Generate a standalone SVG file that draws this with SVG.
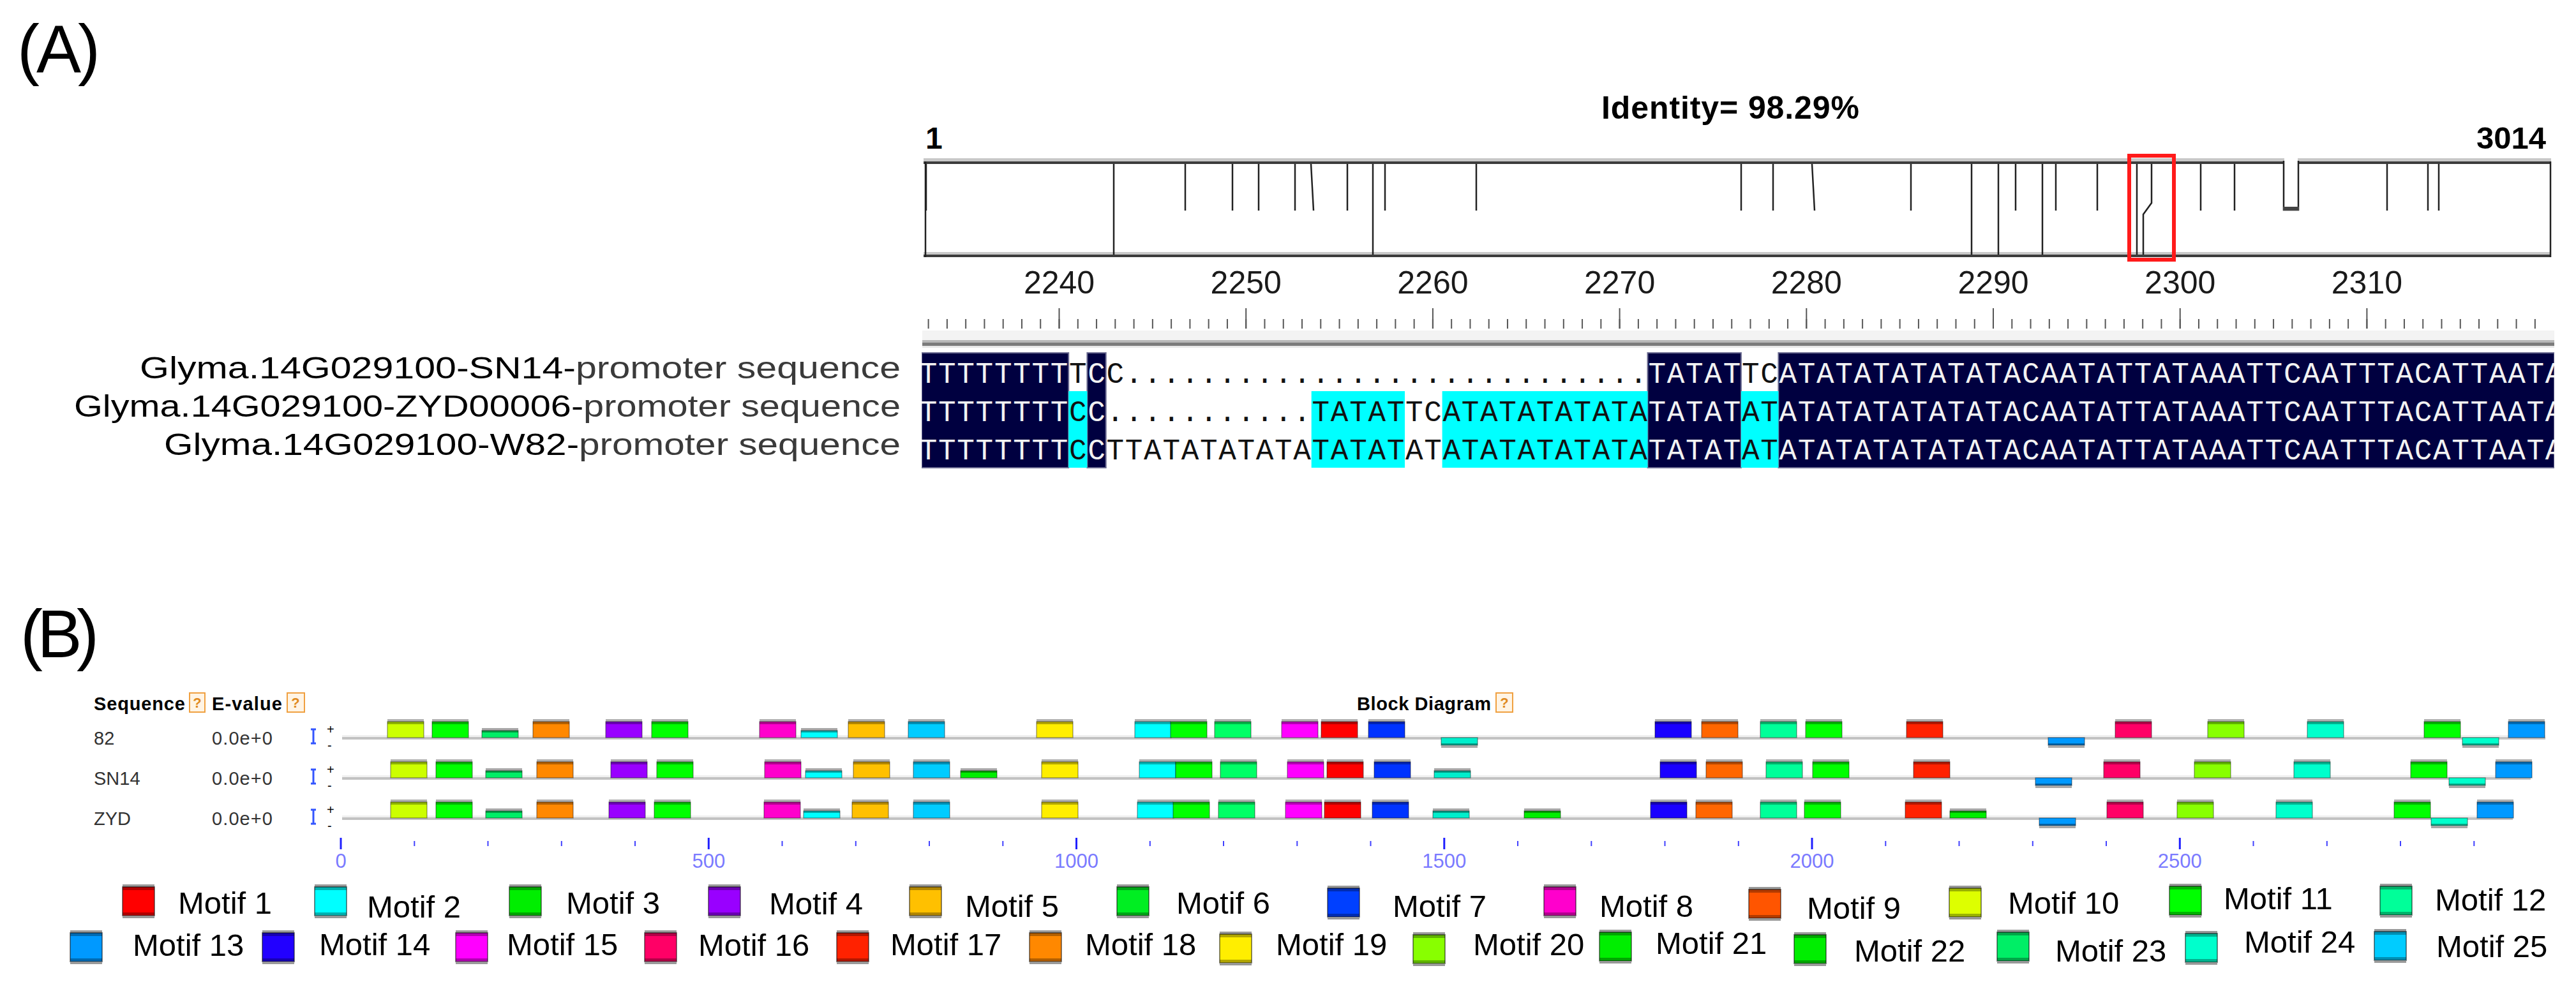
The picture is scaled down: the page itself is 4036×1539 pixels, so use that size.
<svg xmlns="http://www.w3.org/2000/svg" width="4036" height="1539" viewBox="0 0 4036 1539">
<style>
text{font-family:"Liberation Sans",Arial,sans-serif;fill:#000}
.b{font-weight:bold}
.seq{font-family:"Liberation Mono","Courier New",monospace;font-size:46px;letter-spacing:1.67px}
.w{fill:#f2f2f2}
.k{fill:#111}
.vl{stroke:#222;stroke-width:2.5;fill:none}
.num{font-size:50px;fill:#1a1a1a}
.mt{font-size:49px}
.sml{font-size:29px;fill:#333}
.ax{font-size:31px;fill:#7a7aff}
.nav{fill:#000040;stroke:#6b6b90;stroke-width:2}
.cy{fill:#00ffff}
.q{fill:#fff4e4;stroke:#f0a040;stroke-width:2}
.qt{font-size:22px;fill:#e08a20;font-weight:bold}
.sl{font-size:48px}
</style>
<defs>
<g id="bu"><rect width="57" height="4" fill="#b0b0b0"/><rect y="4" width="57" height="25" fill="currentColor" stroke="#000" stroke-opacity=".35" stroke-width="1.5"/><rect y="4" width="57" height="4" fill="#000" opacity=".3"/></g>
<g id="bs"><rect width="57" height="4" fill="#a8a8a8"/><rect y="4" width="57" height="11" fill="currentColor" stroke="#000" stroke-opacity=".35" stroke-width="1.5"/><rect y="4" width="57" height="3" fill="#000" opacity=".35"/></g>
<g id="bd"><rect width="57" height="12" fill="currentColor" stroke="#000" stroke-opacity=".35" stroke-width="1.5"/><rect y="9" width="57" height="3" fill="#000" opacity=".35"/><rect y="12" width="57" height="4" fill="#a8a8a8"/></g>
<g id="sw"><rect width="50" height="4" fill="#999"/><rect y="4" width="50" height="45" fill="currentColor" stroke="#000" stroke-opacity=".45" stroke-width="2"/><rect y="4" width="50" height="5" fill="#000" opacity=".3"/><rect y="44" width="50" height="5" fill="#000" opacity=".3"/><rect y="49" width="50" height="4" fill="#999"/></g>
<g id="strand"><path d="M491,-12V10M487,-12H495M487,10H495" stroke="#3355ff" stroke-width="3" fill="none"/><text x="512" y="-5" font-size="20" fill="#555">+</text><text x="513" y="20" font-size="20" fill="#555">-</text></g>
<pattern id="tk" patternUnits="userSpaceOnUse" x="1440" y="500" width="29.27" height="15"><rect x="13.6" width="2" height="15" fill="#555"/></pattern>
<clipPath id="alc"><rect x="1444" y="540" width="2558" height="200"/></clipPath>
</defs>
<rect width="4036" height="1539" fill="#fff"/>

<g id="panel-a">
<text id="label-a" x="27" y="113" font-size="105" textLength="130">(A)</text>

<g id="identity-bar">
<text x="2509" y="186" class="b" font-size="50" textLength="404">Identity= 98.29%</text>
<text x="1450" y="233" class="b" font-size="48">1</text>
<text x="3989" y="233" class="b" font-size="49" text-anchor="end">3014</text>
<rect x="1447" y="248" width="2550" height="5" fill="#c8c8c8"/>
<rect x="1447" y="253" width="2550" height="4" fill="#3c3c3c"/>
<rect x="1447" y="395" width="2550" height="4" fill="#c8c8c8"/>
<rect x="1447" y="399" width="2550" height="4" fill="#3c3c3c"/>
<path class="vl" stroke-width="2" d="M1450,253V403M3996,253V403"/>
<path class="vl" d="M1451,257V330M1857,257V330M1931,257V330M1972,257V330M2029,257V330M2111,257V330M2170,257V330M2313,257V330M2778,257V330M2994,257V330M3158,257V330M3221,257V330M3286,257V330M3448,257V330M3501,257V330M3740,257V330M3804,257V330M3821,257V330M2054,257L2058,330M2839,257L2843,330"/>
<path class="vl" stroke-width="6" d="M2728,257V330"/>
<path class="vl" stroke-width="3.5" d="M1745,257V399M3089,257V399"/>
<path class="vl" d="M2151,257V399M3131,257V399M3200,257V399"/>
<rect x="3579" y="246" width="21" height="12" fill="#fff"/>
<path class="vl" d="M3578,252V329H3601V252"/>
<rect x="3577" y="324" width="25" height="6" fill="#444"/>
<path class="vl" stroke-width="1.5" d="M3348,257V399"/>
<path class="vl" stroke-width="3.5" d="M3371,257V318L3358,336V399"/>
<rect x="3336" y="244" width="70" height="163" fill="none" stroke="#ff1a1a" stroke-width="6"/>
</g>

<g id="ruler">
<g text-anchor="middle">
<text x="1659.5" y="460" class="num">2240</text>
<text x="1952.2" y="460" class="num">2250</text>
<text x="2244.9" y="460" class="num">2260</text>
<text x="2537.6" y="460" class="num">2270</text>
<text x="2830.3" y="460" class="num">2280</text>
<text x="3123" y="460" class="num">2290</text>
<text x="3415.7" y="460" class="num">2300</text>
<text x="3708.4" y="460" class="num">2310</text>
</g>
<rect x="1444" y="500" width="2540" height="15" fill="url(#tk)"/>
<path stroke="#555" stroke-width="2" d="M1659.5,483V515M1952.2,483V515M2244.9,483V515M2537.6,483V515M2830.3,483V515M3123,483V515M3415.7,483V515M3708.4,483V515"/>
<rect x="1445" y="518" width="2557" height="15" fill="#f3f3f3"/>
<rect x="1445" y="533" width="2557" height="4" fill="#b8b8b8"/>
<rect x="1445" y="537" width="2557" height="5" fill="#7c7c7c"/>
<rect x="1445" y="542" width="2557" height="3" fill="#e8e8e8"/>
</g>

<g id="sequence-labels">
<text x="219" y="593" class="sl" textLength="1192" lengthAdjust="spacingAndGlyphs">Glyma.14G029100-SN14-<tspan fill="#3a3a3a">promoter sequence</tspan></text>
<text x="116" y="653" class="sl" textLength="1295" lengthAdjust="spacingAndGlyphs">Glyma.14G029100-ZYD00006-<tspan fill="#3a3a3a">promoter sequence</tspan></text>
<text x="257" y="713" class="sl" textLength="1154" lengthAdjust="spacingAndGlyphs">Glyma.14G029100-W82-<tspan fill="#3a3a3a">promoter sequence</tspan></text>
</g>

<g id="alignment" clip-path="url(#alc)">
<rect class="nav" x="1444" y="553" width="230.2" height="180"/>
<rect class="nav" x="1703.4" y="553" width="29.3" height="180"/>
<rect class="nav" x="2581.5" y="553" width="146.4" height="180"/>
<rect class="nav" x="2786.4" y="553" width="1215.6" height="180"/>
<rect class="cy" x="1674.2" y="613" width="29.2" height="120"/>
<rect class="cy" x="2054.7" y="613" width="146.3" height="120"/>
<rect class="cy" x="2259.6" y="613" width="321.9" height="120"/>
<rect class="cy" x="2727.9" y="613" width="58.5" height="120"/>
<text class="seq" x="1440.8" y="600"><tspan class="w">TTTTTTTT</tspan><tspan class="k">T</tspan><tspan class="w">C</tspan><tspan class="k">C............................</tspan><tspan class="w">TATAT</tspan><tspan class="k">TC</tspan><tspan class="w">ATATATATATATACAATATTATAAATTCAATTTACATTAATA</tspan></text>
<text class="seq" x="1440.8" y="660"><tspan class="w">TTTTTTTT</tspan><tspan class="k">C</tspan><tspan class="w">C</tspan><tspan class="k">...........TATATTCATATATATATA</tspan><tspan class="w">TATAT</tspan><tspan class="k">AT</tspan><tspan class="w">ATATATATATATACAATATTATAAATTCAATTTACATTAATA</tspan></text>
<text class="seq" x="1440.8" y="720"><tspan class="w">TTTTTTTT</tspan><tspan class="k">C</tspan><tspan class="w">C</tspan><tspan class="k">TTATATATATATATATATATATATATATA</tspan><tspan class="w">TATAT</tspan><tspan class="k">AT</tspan><tspan class="w">ATATATATATATACAATATTATAAATTCAATTTACATTAATA</tspan></text>
</g>
</g>

<g id="panel-b">
<text id="label-b" x="32" y="1030" font-size="105" textLength="123">(B)</text>

<g id="header">
<text x="147" y="1113" class="b" font-size="29" fill="#222" textLength="143">Sequence</text>
<rect class="q" x="297" y="1086" width="24" height="30"/><text x="309" y="1109" class="qt" text-anchor="middle">?</text>
<text x="332" y="1113" class="b" font-size="29" fill="#222" textLength="110">E-value</text>
<rect class="q" x="450" y="1086" width="27" height="30"/><text x="463" y="1109" class="qt" text-anchor="middle">?</text>
<text x="2126" y="1113" class="b" font-size="29" fill="#222" textLength="210">Block Diagram</text>
<rect class="q" x="2344" y="1086" width="26" height="30"/><text x="2357" y="1109" class="qt" text-anchor="middle">?</text>
</g>

<g id="row-82">
<text x="147" y="1167" class="sml">82</text>
<text x="332" y="1167" class="sml" textLength="95">0.0e+0</text>
<use href="#strand" y="1155"/>
<rect x="536" y="1152" width="3452" height="3" fill="#f0f0f0"/><rect x="536" y="1155" width="3452" height="4" fill="#c2c2c2"/>
<use href="#bu" x="607" y="1127" color="#ccff00"/>
<use href="#bu" x="677" y="1127" color="#00ff00"/>
<use href="#bs" x="755" y="1141" color="#00ee66"/>
<use href="#bu" x="835" y="1127" color="#ff8800"/>
<use href="#bu" x="949" y="1127" color="#9900ff"/>
<use href="#bu" x="1021" y="1127" color="#00ff00"/>
<use href="#bu" x="1190" y="1127" color="#ff00cc"/>
<use href="#bs" x="1255" y="1141" color="#00ffff"/>
<use href="#bu" x="1329" y="1127" color="#ffc000"/>
<use href="#bu" x="1423" y="1127" color="#00ccff"/>
<use href="#bu" x="1624" y="1127" color="#ffee00"/>
<use href="#bu" x="1778" y="1127" color="#00ffff"/>
<use href="#bu" x="1834" y="1127" color="#00ff00"/>
<use href="#bu" x="1903" y="1127" color="#00ff66"/>
<use href="#bu" x="2008" y="1127" color="#ff00ff"/>
<use href="#bu" x="2070" y="1127" color="#ff0000"/>
<use href="#bu" x="2144" y="1127" color="#0033ff"/>
<use href="#bd" x="2258" y="1156" color="#00eecc"/>
<use href="#bu" x="2593" y="1127" color="#1a00ff"/>
<use href="#bu" x="2666" y="1127" color="#ff6600"/>
<use href="#bu" x="2758" y="1127" color="#00ff99"/>
<use href="#bu" x="2829" y="1127" color="#00ff00"/>
<use href="#bu" x="2987" y="1127" color="#ff2200"/>
<use href="#bd" x="3209" y="1156" color="#0099ff"/>
<use href="#bu" x="3314" y="1127" color="#ff0066"/>
<use href="#bu" x="3459" y="1127" color="#88ff00"/>
<use href="#bu" x="3615" y="1127" color="#00ffcc"/>
<use href="#bu" x="3798" y="1127" color="#00ff00"/>
<use href="#bd" x="3858" y="1156" color="#00ffcc"/>
<use href="#bu" x="3930" y="1127" color="#0099ff"/>
</g>

<g id="row-sn14">
<text x="147" y="1230" class="sml">SN14</text>
<text x="332" y="1230" class="sml" textLength="95">0.0e+0</text>
<use href="#strand" y="1218"/>
<rect x="536" y="1215" width="3429" height="3" fill="#f0f0f0"/><rect x="536" y="1218" width="3429" height="4" fill="#c2c2c2"/>
<use href="#bu" x="612" y="1190" color="#ccff00"/>
<use href="#bu" x="683" y="1190" color="#00ff00"/>
<use href="#bs" x="761" y="1204" color="#00ee66"/>
<use href="#bu" x="841" y="1190" color="#ff8800"/>
<use href="#bu" x="957" y="1190" color="#9900ff"/>
<use href="#bu" x="1029" y="1190" color="#00ff00"/>
<use href="#bu" x="1198" y="1190" color="#ff00cc"/>
<use href="#bs" x="1262" y="1204" color="#00ffff"/>
<use href="#bu" x="1337" y="1190" color="#ffc000"/>
<use href="#bu" x="1431" y="1190" color="#00ccff"/>
<use href="#bs" x="1505" y="1204" color="#00ee00"/>
<use href="#bu" x="1632" y="1190" color="#ffee00"/>
<use href="#bu" x="1785" y="1190" color="#00ffff"/>
<use href="#bu" x="1842" y="1190" color="#00ff00"/>
<use href="#bu" x="1912" y="1190" color="#00ff66"/>
<use href="#bu" x="2017" y="1190" color="#ff00ff"/>
<use href="#bu" x="2079" y="1190" color="#ff0000"/>
<use href="#bu" x="2153" y="1190" color="#0033ff"/>
<use href="#bs" x="2247" y="1204" color="#00eecc"/>
<use href="#bu" x="2601" y="1190" color="#1a00ff"/>
<use href="#bu" x="2673" y="1190" color="#ff6600"/>
<use href="#bu" x="2767" y="1190" color="#00ff99"/>
<use href="#bu" x="2840" y="1190" color="#00ff00"/>
<use href="#bu" x="2998" y="1190" color="#ff2200"/>
<use href="#bd" x="3189" y="1219" color="#0099ff"/>
<use href="#bu" x="3296" y="1190" color="#ff0066"/>
<use href="#bu" x="3438" y="1190" color="#88ff00"/>
<use href="#bu" x="3594" y="1190" color="#00ffcc"/>
<use href="#bu" x="3777" y="1190" color="#00ff00"/>
<use href="#bd" x="3837" y="1219" color="#00ffcc"/>
<use href="#bu" x="3910" y="1190" color="#0099ff"/>
</g>

<g id="row-zyd">
<text x="147" y="1293" class="sml">ZYD</text>
<text x="332" y="1293" class="sml" textLength="95">0.0e+0</text>
<use href="#strand" y="1281"/>
<rect x="536" y="1278" width="3401" height="3" fill="#f0f0f0"/><rect x="536" y="1281" width="3401" height="4" fill="#c2c2c2"/>
<use href="#bu" x="612" y="1253" color="#ccff00"/>
<use href="#bu" x="683" y="1253" color="#00ff00"/>
<use href="#bs" x="761" y="1267" color="#00ee66"/>
<use href="#bu" x="841" y="1253" color="#ff8800"/>
<use href="#bu" x="954" y="1253" color="#9900ff"/>
<use href="#bu" x="1025" y="1253" color="#00ff00"/>
<use href="#bu" x="1197" y="1253" color="#ff00cc"/>
<use href="#bs" x="1259" y="1267" color="#00ffff"/>
<use href="#bu" x="1335" y="1253" color="#ffc000"/>
<use href="#bu" x="1431" y="1253" color="#00ccff"/>
<use href="#bu" x="1632" y="1253" color="#ffee00"/>
<use href="#bu" x="1782" y="1253" color="#00ffff"/>
<use href="#bu" x="1838" y="1253" color="#00ff00"/>
<use href="#bu" x="1909" y="1253" color="#00ff66"/>
<use href="#bu" x="2014" y="1253" color="#ff00ff"/>
<use href="#bu" x="2075" y="1253" color="#ff0000"/>
<use href="#bu" x="2150" y="1253" color="#0033ff"/>
<use href="#bs" x="2245" y="1267" color="#00eecc"/>
<use href="#bs" x="2388" y="1267" color="#00ee00"/>
<use href="#bu" x="2586" y="1253" color="#1a00ff"/>
<use href="#bu" x="2657" y="1253" color="#ff6600"/>
<use href="#bu" x="2758" y="1253" color="#00ff99"/>
<use href="#bu" x="2827" y="1253" color="#00ff00"/>
<use href="#bu" x="2985" y="1253" color="#ff2200"/>
<use href="#bs" x="3055" y="1267" color="#00ee00"/>
<use href="#bd" x="3195" y="1282" color="#0099ff"/>
<use href="#bu" x="3301" y="1253" color="#ff0066"/>
<use href="#bu" x="3411" y="1253" color="#88ff00"/>
<use href="#bu" x="3566" y="1253" color="#00ffcc"/>
<use href="#bu" x="3751" y="1253" color="#00ff00"/>
<use href="#bd" x="3809" y="1282" color="#00ffcc"/>
<use href="#bu" x="3881" y="1253" color="#0099ff"/>
</g>

<g id="axis">
<path stroke="#4040ff" stroke-width="2" d="M649.3,1318v8M764.5,1318v8M879.8,1318v8M995,1318v8M1225.5,1318v8M1340.8,1318v8M1456,1318v8M1571.3,1318v8M1801.8,1318v8M1917,1318v8M2032.3,1318v8M2147.5,1318v8M2378,1318v8M2493.3,1318v8M2608.5,1318v8M2723.8,1318v8M2954.3,1318v8M3069.5,1318v8M3184.8,1318v8M3300,1318v8M3530.5,1318v8M3645.8,1318v8M3761,1318v8M3876.3,1318v8"/>
<path stroke="#2020ff" stroke-width="3" d="M534,1313v18M1110.3,1313v18M1686.5,1313v18M2262.8,1313v18M2839,1313v18M3415.3,1313v18"/>
<g text-anchor="middle">
<text x="534" y="1360" class="ax">0</text>
<text x="1110.3" y="1360" class="ax">500</text>
<text x="1686.5" y="1360" class="ax">1000</text>
<text x="2262.8" y="1360" class="ax">1500</text>
<text x="2839" y="1360" class="ax">2000</text>
<text x="3415.3" y="1360" class="ax">2500</text>
</g>
</g>

<g id="legend">
<g id="legend-motif-1"><use href="#sw" x="192" y="1386" color="#ff0000"/><text x="279" y="1432" class="mt">Motif 1</text></g>
<g id="legend-motif-2"><use href="#sw" x="493" y="1386" color="#00ffff"/><text x="575" y="1438" class="mt">Motif 2</text></g>
<g id="legend-motif-3"><use href="#sw" x="798" y="1386" color="#00ee00"/><text x="887" y="1432" class="mt">Motif 3</text></g>
<g id="legend-motif-4"><use href="#sw" x="1110" y="1386" color="#9900ff"/><text x="1205" y="1433" class="mt">Motif 4</text></g>
<g id="legend-motif-5"><use href="#sw" x="1425" y="1386" color="#ffc000"/><text x="1512" y="1437" class="mt">Motif 5</text></g>
<g id="legend-motif-6"><use href="#sw" x="1750" y="1386" color="#00ee22"/><text x="1843" y="1432" class="mt">Motif 6</text></g>
<g id="legend-motif-7"><use href="#sw" x="2080" y="1388" color="#0040ff"/><text x="2182" y="1437" class="mt">Motif 7</text></g>
<g id="legend-motif-8"><use href="#sw" x="2419" y="1386" color="#ff00cc"/><text x="2506" y="1437" class="mt">Motif 8</text></g>
<g id="legend-motif-9"><use href="#sw" x="2740" y="1390" color="#ff5500"/><text x="2831" y="1440" class="mt">Motif 9</text></g>
<g id="legend-motif-10"><use href="#sw" x="3054" y="1388" color="#ddff00"/><text x="3146" y="1432" class="mt">Motif 10</text></g>
<g id="legend-motif-11"><use href="#sw" x="3399" y="1385" color="#00ff00"/><text x="3484" y="1425" class="mt">Motif 11</text></g>
<g id="legend-motif-12"><use href="#sw" x="3729" y="1385" color="#00ff99"/><text x="3815" y="1427" class="mt">Motif 12</text></g>
<g id="legend-motif-13"><use href="#sw" x="110" y="1458" color="#0099ff"/><text x="208" y="1498" class="mt">Motif 13</text></g>
<g id="legend-motif-14"><use href="#sw" x="411" y="1458" color="#2200ff"/><text x="500" y="1497" class="mt">Motif 14</text></g>
<g id="legend-motif-15"><use href="#sw" x="714" y="1458" color="#ff00ff"/><text x="794" y="1497" class="mt">Motif 15</text></g>
<g id="legend-motif-16"><use href="#sw" x="1010" y="1458" color="#ff0066"/><text x="1094" y="1498" class="mt">Motif 16</text></g>
<g id="legend-motif-17"><use href="#sw" x="1311" y="1458" color="#ff2200"/><text x="1395" y="1497" class="mt">Motif 17</text></g>
<g id="legend-motif-18"><use href="#sw" x="1613" y="1458" color="#ff8800"/><text x="1700" y="1497" class="mt">Motif 18</text></g>
<g id="legend-motif-19"><use href="#sw" x="1911" y="1460" color="#ffee00"/><text x="1999" y="1497" class="mt">Motif 19</text></g>
<g id="legend-motif-20"><use href="#sw" x="2214" y="1461" color="#88ff00"/><text x="2308" y="1497" class="mt">Motif 20</text></g>
<g id="legend-motif-21"><use href="#sw" x="2506" y="1457" color="#00ee00"/><text x="2594" y="1495" class="mt">Motif 21</text></g>
<g id="legend-motif-22"><use href="#sw" x="2811" y="1461" color="#00ee00"/><text x="2905" y="1507" class="mt">Motif 22</text></g>
<g id="legend-motif-23"><use href="#sw" x="3129" y="1457" color="#00ee66"/><text x="3220" y="1507" class="mt">Motif 23</text></g>
<g id="legend-motif-24"><use href="#sw" x="3424" y="1459" color="#00ffcc"/><text x="3516" y="1493" class="mt">Motif 24</text></g>
<g id="legend-motif-25"><use href="#sw" x="3720" y="1456" color="#00ccff"/><text x="3817" y="1500" class="mt">Motif 25</text></g>
</g>
</g>
</svg>
